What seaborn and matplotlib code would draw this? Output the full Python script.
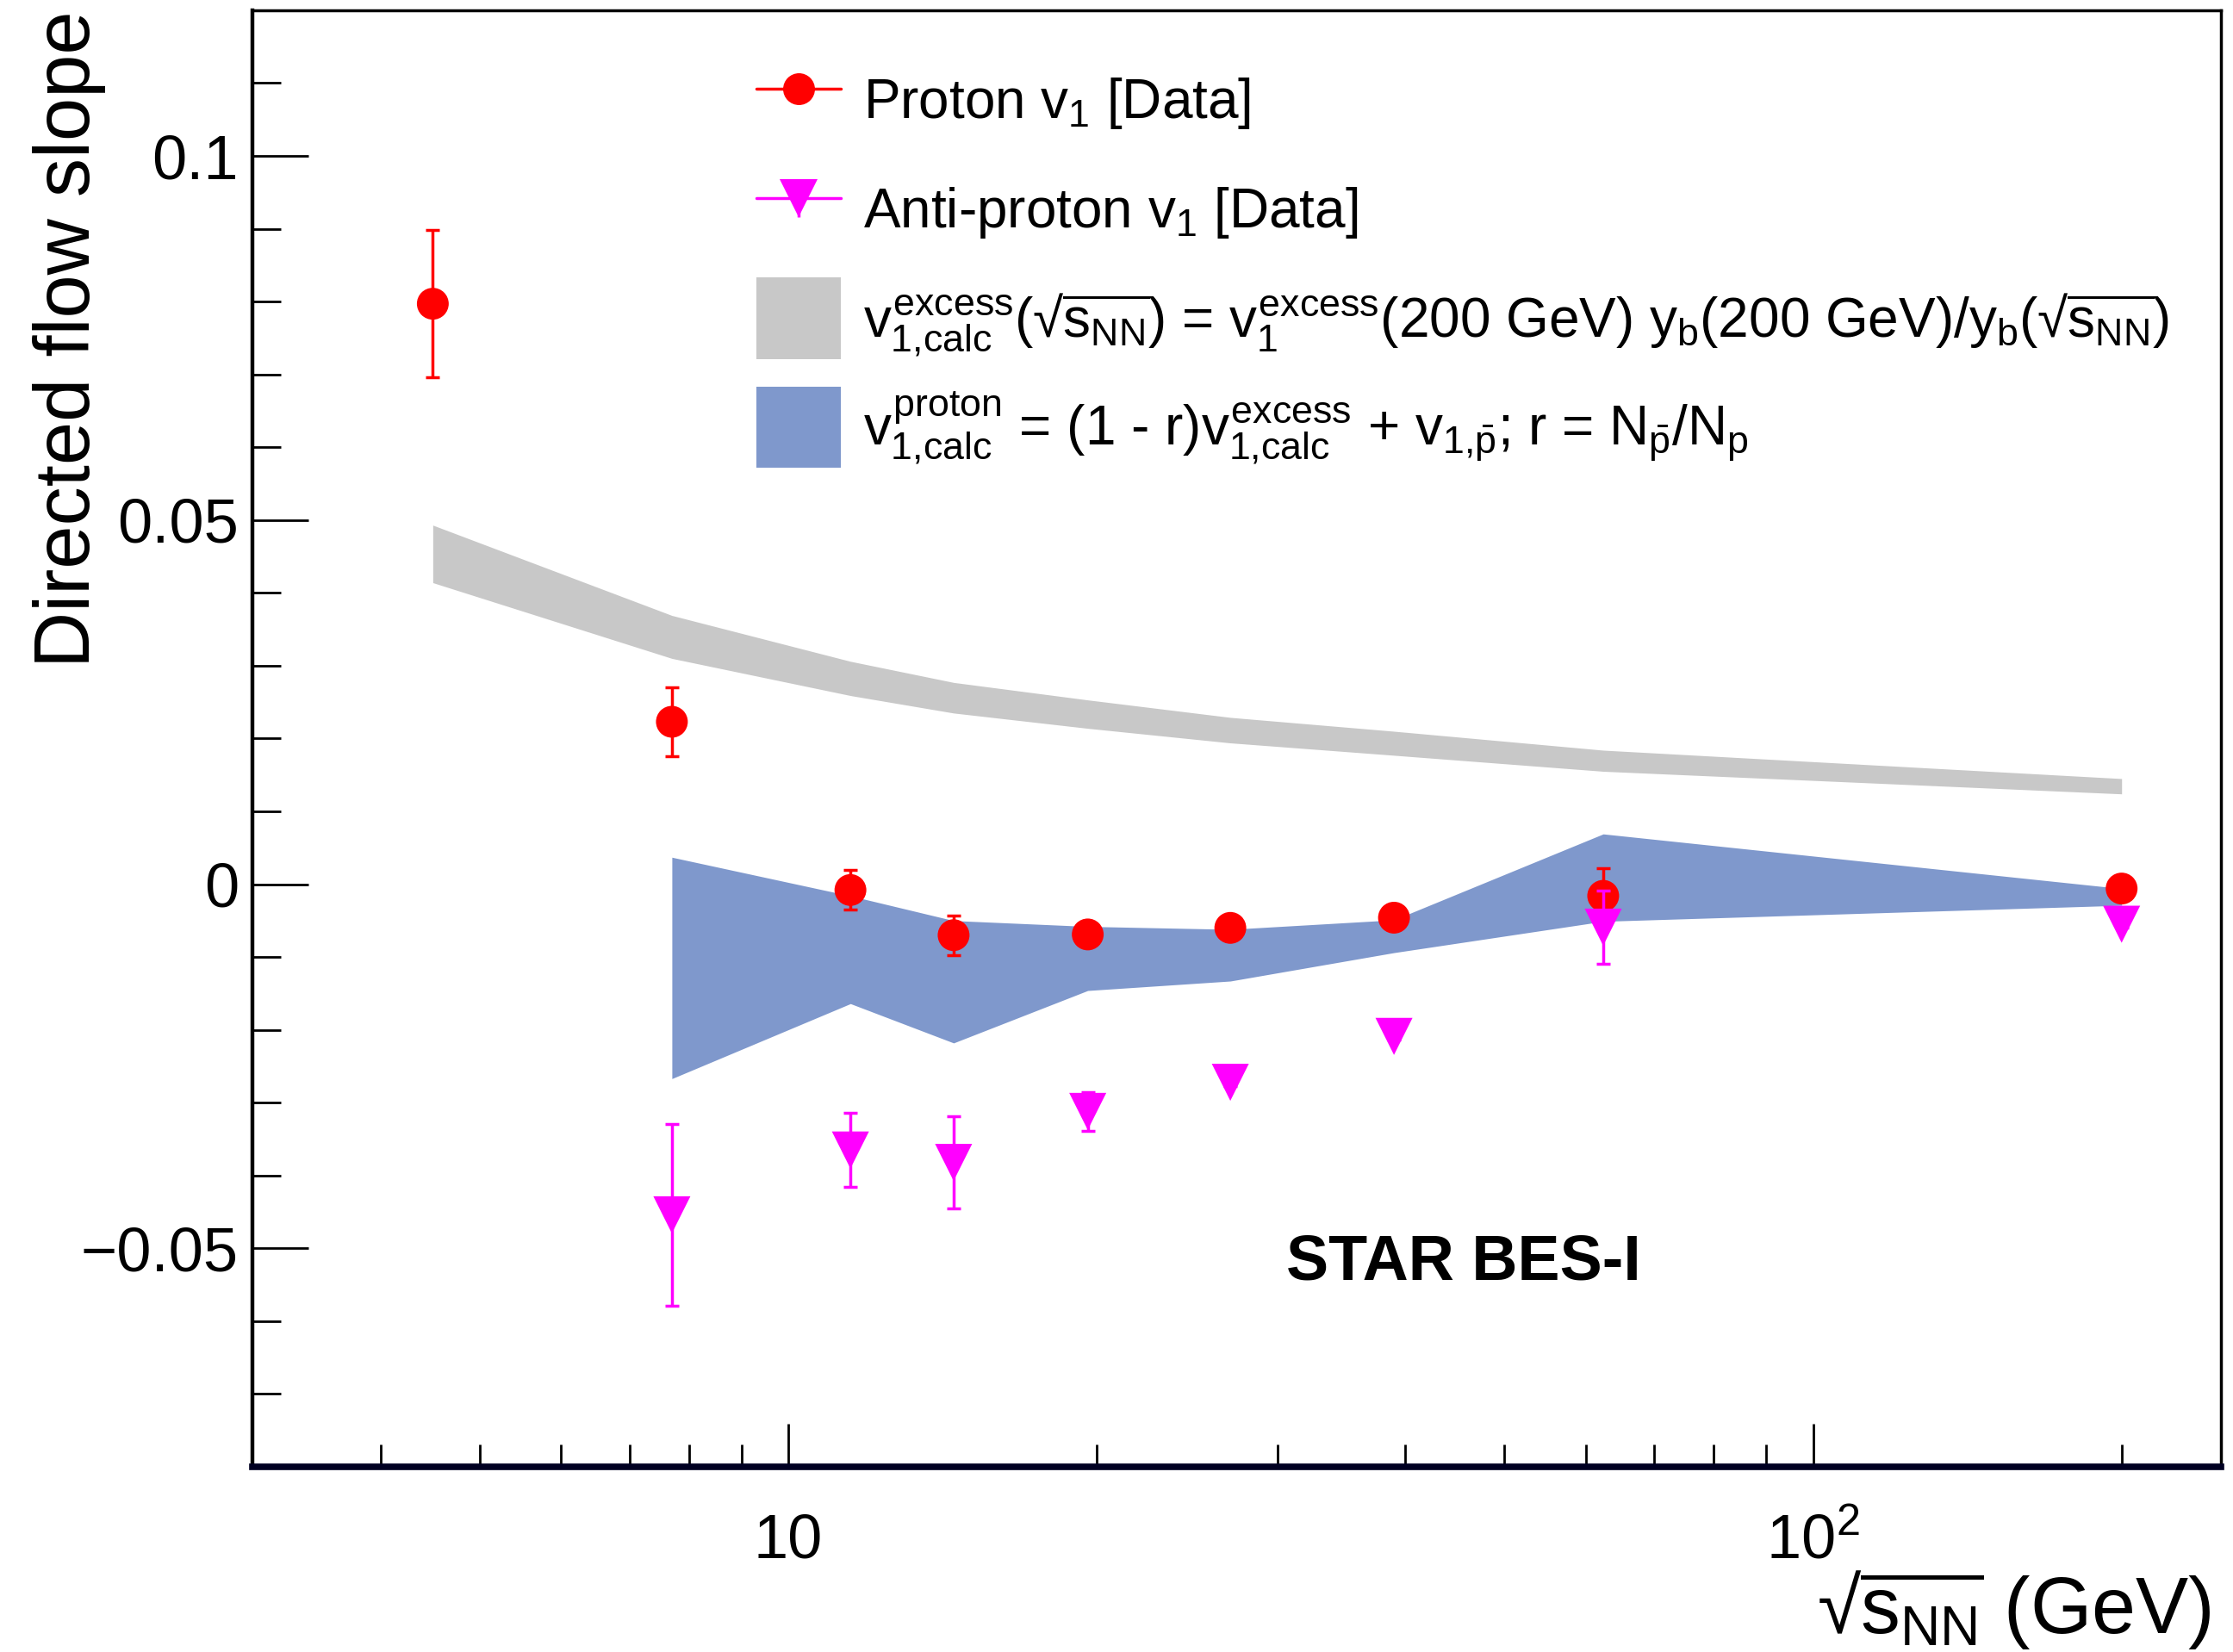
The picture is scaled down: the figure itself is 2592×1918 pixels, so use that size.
import numpy as np
import pandas as pd
import matplotlib
matplotlib.use("Agg")
import matplotlib.pyplot as plt
import seaborn as sns
from matplotlib.lines import Line2D
from matplotlib.patches import Patch
from matplotlib.legend_handler import HandlerTuple
from matplotlib.ticker import FixedLocator, NullFormatter

# ---- data: directed-flow slope dv1/dy vs collision energy ----
energy_proton = [4.5, 7.7, 11.5, 14.5, 19.6, 27, 39, 62.4, 200]
v1_proton = [0.0797, 0.0223, -0.0008, -0.0070, -0.0069, -0.0060, -0.0046, -0.0016, -0.0006]
v1_proton_err = [0.0101, 0.0047, 0.0027, 0.0027, 0.0010, 0.0010, 0.0010, 0.0038, 0.0005]

energy_pbar = [7.7, 11.5, 14.5, 19.6, 27, 39, 62.4, 200]
v1_pbar = [-0.0454, -0.0365, -0.0382, -0.0312, -0.0272, -0.0209, -0.0059, -0.0055]
v1_pbar_err = [0.0125, 0.0051, 0.0063, 0.0027, 0.0005, 0.0005, 0.0050, 0.0005]

# v1 excess scaled from 200 GeV by beam rapidity
energy_excess = [4.5, 7.7, 11.5, 14.5, 19.6, 27, 39, 62.4, 200]
excess_low = [0.0414, 0.0310, 0.0259, 0.0235, 0.0214, 0.0194, 0.0177, 0.0155, 0.0124]
excess_high = [0.0493, 0.0369, 0.0306, 0.0277, 0.0253, 0.0229, 0.0210, 0.0184, 0.0145]

# calculated proton v1 band
energy_calc = [7.7, 11.5, 14.5, 19.6, 27, 39, 62.4, 200]
calc_low = [-0.0267, -0.0164, -0.0218, -0.0146, -0.0133, -0.0094, -0.0051, -0.0029]
calc_high = [0.0037, -0.0016, -0.0050, -0.0058, -0.0062, -0.0049, 0.0069, -0.0006]

xtick_values = [10, 100]
xtick_labels = ["10", r"$10^{2}$"]
ytick_values = [-0.05, 0.0, 0.05, 0.1]
ytick_labels = ["\u22120.05", "0", "0.05", "0.1"]

legend_labels = [
    r"Proton $v_{1}$ [Data]",
    r"Anti-proton $v_{1}$ [Data]",
    r"$v_{1{,}calc}^{excess}$(√$\overline{s_{NN}}$) = $v_{1}^{excess}$(200 GeV) $y_{b}$(200 GeV)/$y_{b}$(√$\overline{s_{NN}}$)",
    r"$v_{1{,}calc}^{proton}$ = (1 - r)$v_{1{,}calc}^{excess}$ + $v_{1{,}\bar{p}}$; r = $N_{\bar{p}}$/$N_{p}$",
]

RED = "#ff0000"
MAGENTA = "#ff00ff"
GRAY = "#c8c8c8"
BLUE = "#7f98cc"

# ---- style ----
sns.set_style("white")
plt.rcParams["font.family"] = ["Liberation Sans", "DejaVu Sans"]
plt.rcParams["mathtext.fontset"] = "custom"
plt.rcParams["mathtext.rm"] = "Liberation Sans"
plt.rcParams["mathtext.it"] = "Liberation Sans"
plt.rcParams["mathtext.bf"] = "Liberation Sans:bold"
plt.rcParams["mathtext.sf"] = "Liberation Sans"
for key in ["text.color", "axes.labelcolor", "xtick.color", "ytick.color"]:
    plt.rcParams[key] = "black"

fig = plt.figure(figsize=(25.92, 19.18), dpi=100)
fig.patch.set_facecolor("white")
ax = fig.add_axes([0.1130, 0.1121, 0.8816, 0.8817])
ax.set_facecolor("white")

# ---- bands ----
ax.fill_between(energy_excess, excess_low, excess_high, color=GRAY, lw=0, zorder=1)
ax.fill_between(energy_calc, calc_low, calc_high, color=BLUE, lw=0, zorder=1.5)

# ---- data points ----
df_p = pd.DataFrame({"energy": energy_proton, "v1": v1_proton, "err": v1_proton_err})
df_pb = pd.DataFrame({"energy": energy_pbar, "v1": v1_pbar, "err": v1_pbar_err})

ax.errorbar(df_p["energy"], df_p["v1"], yerr=df_p["err"], fmt="none",
            ecolor=RED, elinewidth=2.5, capsize=5.8, capthick=2.5, zorder=3)
sns.scatterplot(data=df_p, x="energy", y="v1", ax=ax, marker="o", s=26.6 ** 2,
                color=RED, linewidth=0, edgecolor="none", zorder=4, legend=False)
ax.errorbar(df_pb["energy"], df_pb["v1"], yerr=df_pb["err"], fmt="none",
            ecolor=MAGENTA, elinewidth=2.5, capsize=5.8, capthick=2.5, zorder=5)
sns.scatterplot(data=df_pb, x="energy", y="v1", ax=ax, marker="v", s=31 ** 2,
                color=MAGENTA, linewidth=0, edgecolor="none", zorder=6, legend=False)

# ---- axes ----
ax.set_xscale("log")
ax.set_xlim(3, 250)
ax.set_ylim(-0.08, 0.12)
ax.set_xlabel("")
ax.set_ylabel("")

ax.xaxis.set_major_locator(FixedLocator(xtick_values))
ax.xaxis.set_minor_locator(FixedLocator([4, 5, 6, 7, 8, 9, 20, 30, 40, 50, 60, 70, 80, 90, 200]))
ax.xaxis.set_major_formatter(NullFormatter())
ax.xaxis.set_minor_formatter(NullFormatter())
ax.set_yticks(ytick_values)
ax.set_yticklabels(ytick_labels)
ax.yaxis.set_minor_locator(FixedLocator(np.round(np.arange(-0.07, 0.115, 0.01), 3)))

ax.tick_params(axis="both", which="both", direction="in", color="black", width=2.0,
               bottom=True, left=True, top=False, right=False)
ax.tick_params(axis="y", which="major", length=47, labelsize=52, pad=11.5)
ax.tick_params(axis="y", which="minor", length=24)
ax.tick_params(axis="x", which="major", length=36)
ax.tick_params(axis="x", which="minor", length=19)

for side, lw in [("left", 3.2), ("top", 2.5), ("right", 2.5), ("bottom", 5.5)]:
    ax.spines[side].set_visible(True)
    ax.spines[side].set_linewidth(lw)
    ax.spines[side].set_color("black")
ax.spines["bottom"].set_color("#000022")

xt = ax.get_xaxis_transform()
for xv, lab in zip(xtick_values, xtick_labels):
    ax.text(xv, -0.0623, lab, transform=xt, ha="center", va="baseline", fontsize=52)

ax.text(0.9947, -0.1140, r"√$\overline{s_{NN}}$ (GeV)", transform=ax.transAxes,
        ha="right", va="baseline", fontsize=66)
ax.text(-0.1116, 1.0, "Directed flow slope", transform=ax.transAxes,
        rotation=90, ha="left", va="top", fontsize=65)

ax.text(0.525, 0.1279, "STAR BES-I", transform=ax.transAxes,
        ha="left", va="baseline", fontsize=53, fontweight="bold")

# ---- legend ----
h_proton = (Line2D([], [], color=RED, lw=2.5),
            Line2D([], [], color=RED, marker="o", ms=26.6, ls="none", mew=0))
h_pbar = (Line2D([], [], color=MAGENTA, lw=2.5, marker="|", ms=31, mew=2.5),
          Line2D([], [], color=MAGENTA, marker="v", ms=31, ls="none", mew=0))
h_excess = Patch(facecolor=GRAY, edgecolor="none")
h_calc = Patch(facecolor=BLUE, edgecolor="none")

ax.legend([h_proton, h_pbar, h_excess, h_calc], legend_labels,
          handler_map={tuple: HandlerTuple(ndivide=1, pad=0)},
          loc="upper left", bbox_to_anchor=(0.256, 0.966), frameon=False,
          fontsize=46, handlelength=1.53, handleheight=1.9, handletextpad=0.42,
          labelspacing=0.5, borderpad=0, borderaxespad=0, numpoints=1)

fig.savefig("out.png", dpi=100, facecolor="white")
